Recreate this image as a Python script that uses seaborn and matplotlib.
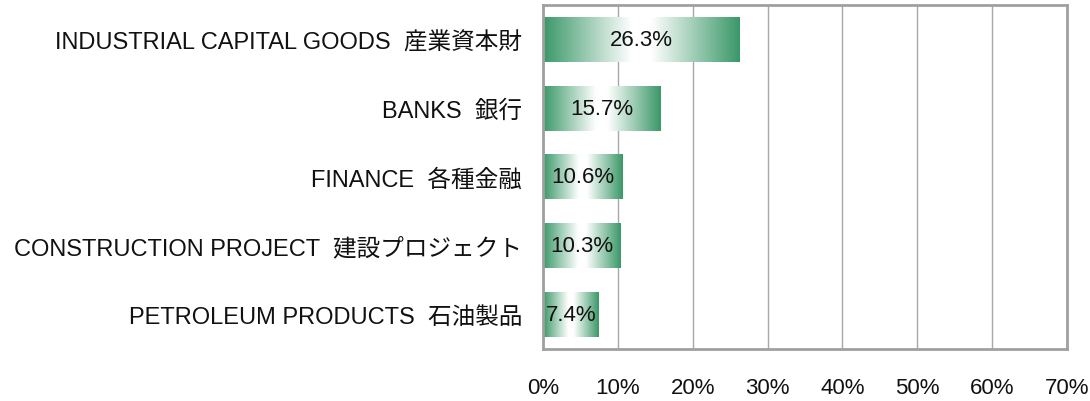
import matplotlib
matplotlib.use("Agg")
import matplotlib.pyplot as plt
import seaborn as sns
import numpy as np
import pandas as pd
from matplotlib.colors import LinearSegmentedColormap
from matplotlib.ticker import FixedLocator

categories = [
    "INDUSTRIAL CAPITAL GOODS  産業資本財",
    "BANKS  銀行",
    "FINANCE  各種金融",
    "CONSTRUCTION PROJECT  建設プロジェクト",
    "PETROLEUM PRODUCTS  石油製品",
]
values = [26.3, 15.7, 10.6, 10.3, 7.4]
xticks = [0, 10, 20, 30, 40, 50, 60, 70]

sns.set_style("white")
plt.rcParams['font.family'] = ['Liberation Sans', 'Noto Sans CJK JP', 'DejaVu Sans']

fig = plt.figure(figsize=(10.9, 4.02), dpi=100)
ax = fig.add_axes([543/1090, 1 - 350/402, (1067 - 543)/1090, (350 - 6)/402])

df = pd.DataFrame({"cat": categories, "val": values})
sns.barplot(data=df, x="val", y="cat", orient="h", ax=ax, width=0.65,
            color="#3a9a6a", zorder=2)

green = "#3a9868"
cmap = LinearSegmentedColormap.from_list(
    "g", [(0, green), (0.45, "#ffffff"), (0.55, "#ffffff"), (1, green)])
grad = np.linspace(0, 1, 256).reshape(1, -1)

for p, v in zip(ax.patches, values):
    x, y = p.get_x(), p.get_y()
    w, h = p.get_width(), p.get_height()
    p.set_facecolor("none")
    p.set_edgecolor("none")
    ax.imshow(grad, extent=[x, x + w, y + h, y], aspect="auto", cmap=cmap,
              zorder=2, interpolation="bicubic")
    ax.text(x + w / 2, y + h / 2, f"{v}%", ha="center", va="center",
            fontsize=16, color="#111111", zorder=3)

ax.set_xlim(0, 70)
ax.set_ylim(4.5, -0.5)
ax.set_xticks(xticks)
ax.set_xticklabels([f"{t}%" for t in xticks], fontsize=16, color="#111111")
ax.set_xlabel("")
ax.set_ylabel("")
ax.tick_params(axis="x", length=0, pad=20)
ax.tick_params(axis="y", which="major", length=0, pad=15, labelsize=17,
               labelcolor="#111111")
ax.yaxis.set_minor_locator(FixedLocator([0.5, 1.5, 2.5, 3.5]))
ax.tick_params(axis="y", which="minor", direction="in", length=7,
               color="#a0a0a0", width=1)
ax.grid(axis="x", color="#a8a8a8", linewidth=1, zorder=0)
ax.set_axisbelow(True)
for s in ax.spines.values():
    s.set_visible(True)
    s.set_color("#a0a0a0")
    s.set_linewidth(2)

fig.savefig("out.png", dpi=100)
